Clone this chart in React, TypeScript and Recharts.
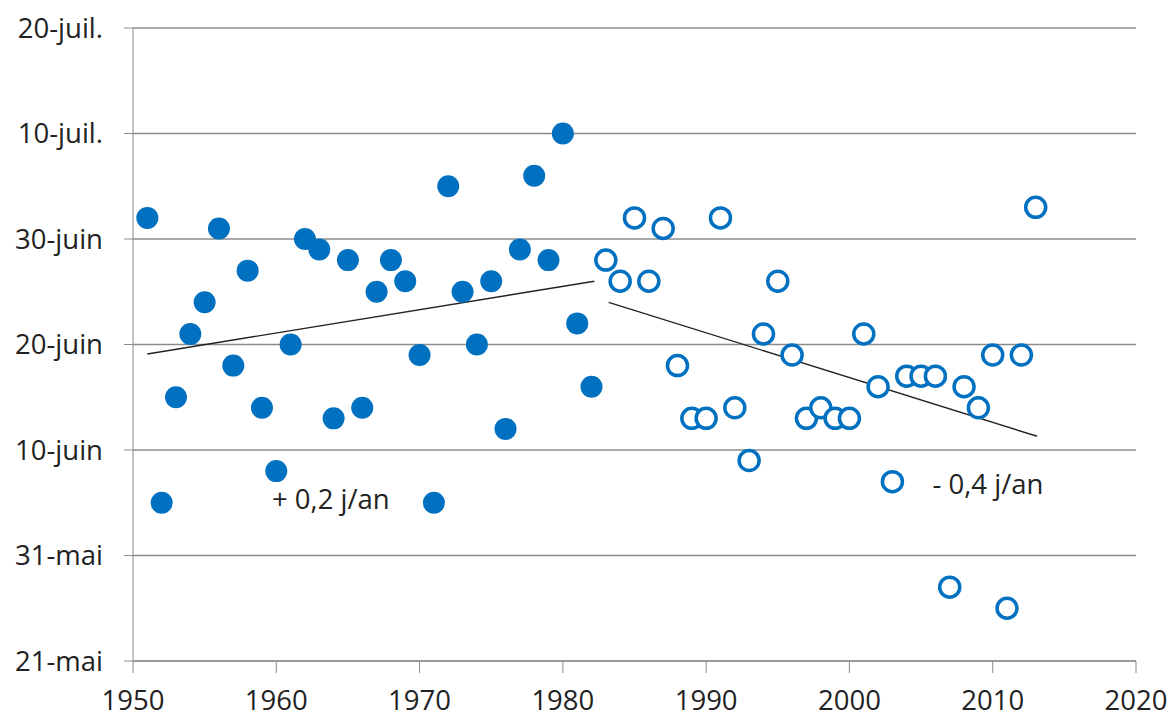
import React from "react";
import {
  ScatterChart,
  Scatter,
  XAxis,
  YAxis,
  CartesianGrid,
  ReferenceLine,
  ReferenceDot,
} from "recharts";

// y = days counted from 21 May
const yearsEarly = [1951, 1952, 1953, 1954, 1955, 1956, 1957, 1958, 1959, 1960, 1961, 1962, 1963, 1964, 1965, 1966, 1967, 1968, 1969, 1970, 1971, 1972, 1973, 1974, 1975, 1976, 1977, 1978, 1979, 1980, 1981, 1982];
const daysEarly = [42, 15, 25, 31, 34, 41, 28, 37, 24, 18, 30, 40, 39, 23, 38, 24, 35, 38, 36, 29, 15, 45, 35, 30, 36, 22, 39, 46, 38, 50, 32, 26];

const yearsLate = [1983, 1984, 1985, 1986, 1987, 1988, 1989, 1990, 1991, 1992, 1993, 1994, 1995, 1996, 1997, 1998, 1999, 2000, 2001, 2002, 2003, 2004, 2005, 2006, 2007, 2008, 2009, 2010, 2011, 2012, 2013];
const daysLate = [38, 36, 42, 36, 41, 28, 23, 23, 42, 24, 19, 31, 36, 29, 23, 24, 23, 23, 31, 26, 17, 27, 27, 27, 7, 26, 24, 29, 5, 29, 43];

const trendEarly = [{ x: 1951, y: 29.1 }, { x: 1982.2, y: 36 }];
const trendLate = [{ x: 1983.2, y: 34 }, { x: 2013.1, y: 21.3 }];

const xTicks = [1950, 1960, 1970, 1980, 1990, 2000, 2010, 2020];
const yTicks = [0, 10, 20, 30, 40, 50, 60];
const yLabels = ["21-mai", "31-mai", "10-juin", "20-juin", "30-juin", "10-juil.", "20-juil."];

const notes = [
  { x: 1959.7, y: 15.3, text: "+ 0,2 j/an" },
  { x: 2005.8, y: 16.8, text: "- 0,4 j/an" },
];

const BLUE = "#0070C0";
const FONT = "'Open Sans', sans-serif";
const FS = 27.5;

const early = yearsEarly.map((x, i) => ({ x, y: daysEarly[i] }));
const late = yearsLate.map((x, i) => ({ x, y: daysLate[i] }));

const Filled = (p: any) => <circle cx={p.cx} cy={p.cy} r={11} fill={BLUE} />;
const Hollow = (p: any) => (
  <circle cx={p.cx} cy={p.cy} r={10} fill="#fff" stroke={BLUE} strokeWidth={3.5} />
);

export default function App() {
  return (
    <div style={{ position: "absolute", left: 0, top: 0, background: "#fff" }}>
      <ScatterChart
        width={1172}
        height={717}
        margin={{ top: 28, right: 36, bottom: 0, left: 1 }}
      >
        <CartesianGrid vertical={false} stroke="#8c8c8c" strokeWidth={1.3} />
        <XAxis
          type="number"
          dataKey="x"
          domain={[1950, 2020]}
          ticks={xTicks}
          interval={0}
          height={56}
          stroke="#8c8c8c"
          tickSize={12}
          tickMargin={17}
          tick={{ fill: "#222", fontSize: FS, fontFamily: FONT }}
        />
        <YAxis
          type="number"
          dataKey="y"
          domain={[0, 60]}
          ticks={yTicks}
          interval={0}
          width={132}
          stroke="#8c8c8c"
          tickSize={9}
          tickMargin={21}
          tickFormatter={(v: number) => yLabels[yTicks.indexOf(v)]}
          tick={{ fill: "#222", fontSize: FS, fontFamily: FONT }}
        />
        <ReferenceLine segment={trendEarly} stroke="#222" strokeWidth={1.4} />
        <ReferenceLine segment={trendLate} stroke="#222" strokeWidth={1.4} />
        <Scatter data={early} shape={Filled} isAnimationActive={false} />
        <Scatter data={late} shape={Hollow} isAnimationActive={false} />
        {notes.map((n) => (
          <ReferenceDot
            key={n.text}
            x={n.x}
            y={n.y}
            r={0}
            fill="none"
            stroke="none"
            label={{
              value: n.text,
              position: "right",
              offset: 0,
              fill: "#222",
              fontSize: FS,
              fontFamily: FONT,
            }}
          />
        ))}
      </ScatterChart>
    </div>
  );
}
